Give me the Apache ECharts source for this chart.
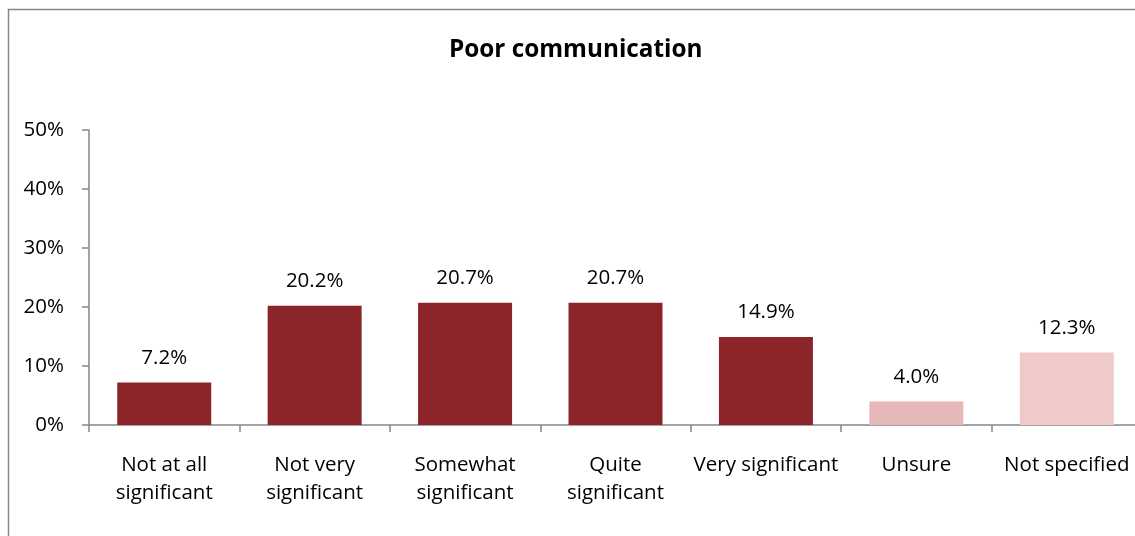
<!DOCTYPE html>
<html>
<head>
<meta charset="utf-8">
<script src="https://cdn.jsdelivr.net/npm/echarts@6/dist/echarts.min.js"></script>
<style>html,body{margin:0;padding:0;background:#fff;overflow:hidden;width:1135px;height:536px;}#c{width:1142px;height:536px;}</style>
</head>
<body>
<div id="c"></div>
<script>
const categories = ['Not at all\nsignificant', 'Not very\nsignificant', 'Somewhat\nsignificant', 'Quite\nsignificant', 'Very significant', 'Unsure', 'Not specified'];
const values = [7.2, 20.2, 20.7, 20.7, 14.9, 4.0, 12.3];
const barColors = ['#8B2529', '#8B2529', '#8B2529', '#8B2529', '#8B2529', '#E6B9B8', '#F0C9C9'];
const yTicks = [0, 10, 20, 30, 40, 50];

const chart = echarts.init(document.getElementById('c'), null, {renderer: 'canvas'});
const FONT = 'Open Sans';
chart.setOption({
  animation: false,
  backgroundColor: '#fff',
  textStyle: {fontFamily: FONT},
  title: {
    text: 'Poor communication',
    left: 444,
    top: 33,
    textStyle: {fontFamily: FONT, fontWeight: 'bold', fontSize: 24.3, color: '#000'}
  },
  graphic: [{
    type: 'rect',
    shape: {x: 8.5, y: 9.5, width: 1300, height: 800},
    style: {fill: null, stroke: '#868686', lineWidth: 1.5},
    silent: true
  }],
  grid: {left: 89, top: 130, right: 0, bottom: 111, containLabel: false},
  xAxis: {
    type: 'category',
    data: categories,
    axisLine: {lineStyle: {color: '#868686', width: 1.5}},
    axisTick: {show: true, alignWithLabel: false, length: 7, lineStyle: {color: '#868686', width: 1.5}},
    axisLabel: {color: '#000', fontSize: 20.5, fontFamily: FONT, margin: 26, lineHeight: 28, interval: 0}
  },
  yAxis: {
    type: 'value',
    min: yTicks[0],
    max: yTicks[yTicks.length - 1],
    interval: 10,
    splitLine: {show: false},
    axisLine: {show: true, lineStyle: {color: '#868686', width: 1.5}},
    axisTick: {show: true, length: 7, lineStyle: {color: '#868686', width: 1.5}},
    axisLabel: {color: '#000', fontSize: 20.5, fontFamily: FONT, margin: 25, formatter: v => v + '%'}
  },
  series: [{
    type: 'bar',
    barWidth: 94,
    data: values.map((v, i) => ({value: v, itemStyle: {color: barColors[i]}})),
    label: {
      show: true,
      position: 'top',
      distance: 14,
      color: '#000',
      fontSize: 20.5,
      fontFamily: FONT,
      formatter: p => p.value.toFixed(1) + '%'
    }
  }]
});
</script>
</body>
</html>
